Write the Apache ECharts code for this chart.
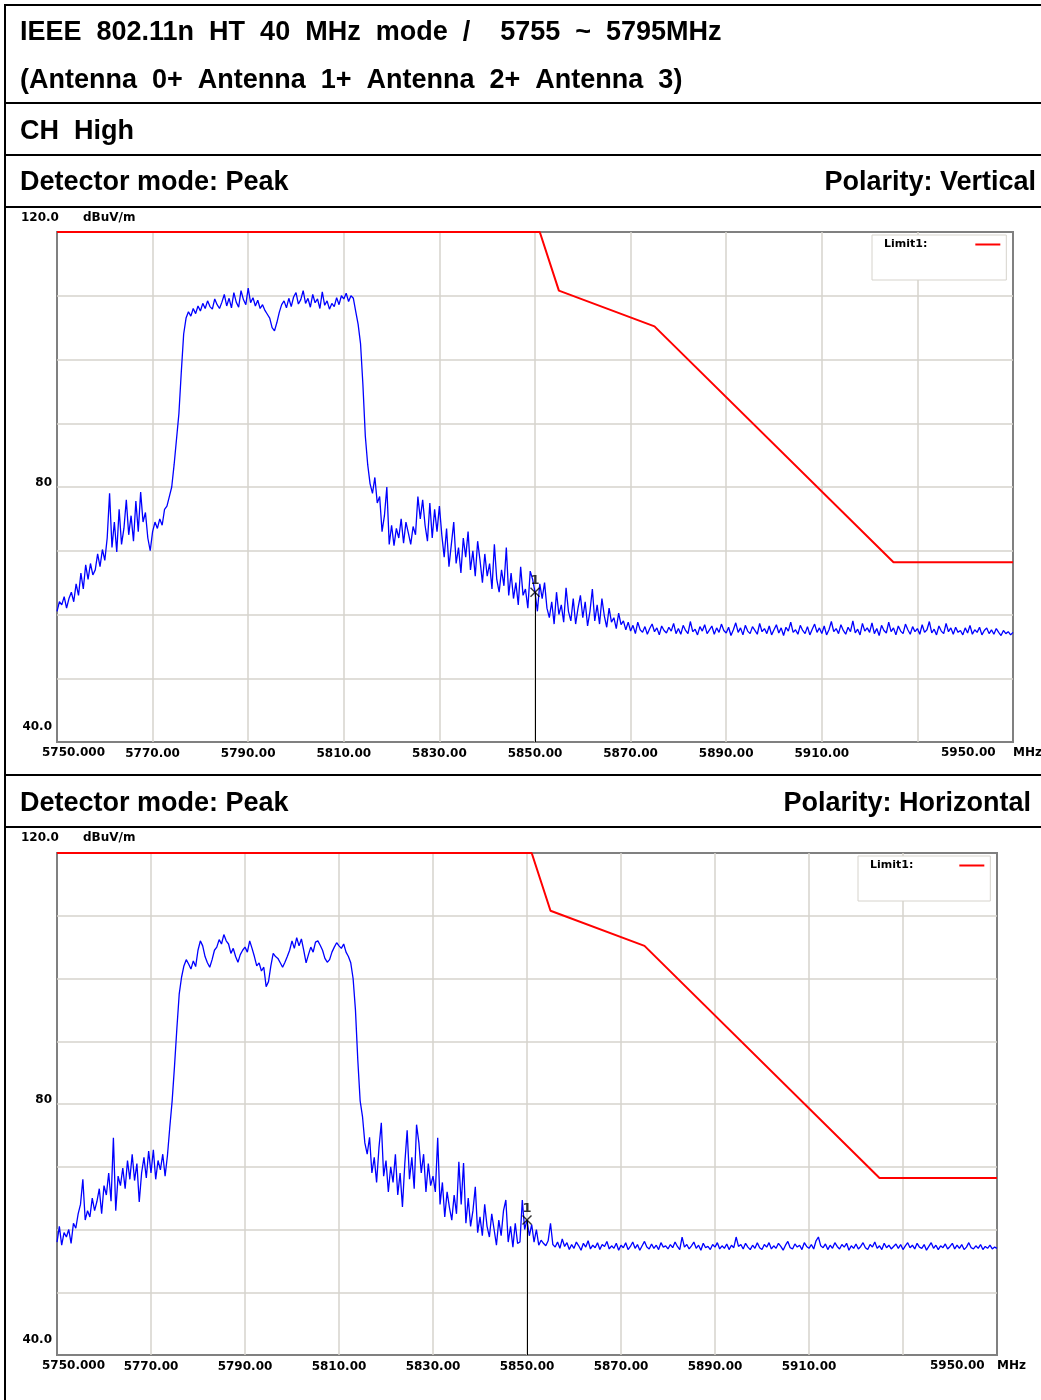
<!DOCTYPE html>
<html>
<head>
<meta charset="utf-8">
<title>802.11n HT40 CH High - band edge</title>
<script src="https://cdn.jsdelivr.net/npm/echarts@6.0.0/dist/echarts.min.js"></script>
<style>
  html, body { margin: 0; padding: 0; background: #fff; }
  #main { width: 1041px; height: 1400px; }
</style>
</head>
<body>
<div id="main"></div>
<script>
// sweep: 5750 .. 5950 MHz, one reading every 0.5 MHz
var freqStart = 5750;
var freqStep = 0.5;

// x tick labels shown under the grid
var xTickLabels = [5770, 5790, 5810, 5830, 5850, 5870, 5890, 5910];

// limit line (dBuV/m)
var limitFreq = [5750, 5851, 5855, 5875, 5925, 5950];
var limitVal  = [120, 120, 110.8, 105.2, 68.2, 68.2];

// marker 1
var markerFreq = 5850;
var markerVertical = 63.5;
var markerHorizontal = 61.5;

// trace, polarity vertical (dBuV/m)
var traceVertical = [
  60.5, 62.0, 61.5, 62.8, 61.0, 62.5, 63.5, 62.0, 64.8, 63.0, 66.5, 64.0, 67.8, 65.5, 68.0, 66.2, 67.0, 69.5, 67.5, 70.2,
  68.5, 72.0, 79.0, 70.5, 74.5, 69.8, 76.5, 71.0, 73.5, 78.0, 72.5, 75.5, 71.5, 77.8, 73.0, 79.2, 74.5, 76.0, 72.0, 70.0,
  73.0, 74.5, 73.5, 75.0, 74.0, 76.5, 77.0, 78.5, 80.0, 83.5, 87.5, 91.5, 98.0, 104.0, 106.5, 107.5, 106.8, 108.0, 107.2, 108.4,
  107.6, 108.8, 108.0, 109.2, 108.3, 107.9, 109.5, 108.6, 108.0, 109.0, 110.2, 108.4, 109.6, 108.1, 110.5, 109.0, 108.2, 110.8, 109.4, 108.6,
  111.2, 108.9, 109.7, 108.4, 109.3, 108.0, 108.6, 107.7, 107.1, 106.5, 105.0, 104.5, 105.8, 107.4, 108.6, 109.2, 108.1, 109.6, 108.3, 109.8,
  110.5, 108.7, 109.4, 110.8, 108.8, 109.6, 108.2, 110.2, 108.9, 109.5, 108.0, 110.6, 108.5, 109.2, 107.9, 108.8, 108.3, 109.7, 108.6, 110.0,
  109.5, 110.4, 109.1, 110.0, 109.6, 107.5, 105.5, 102.5, 96.0, 88.0, 83.5, 80.5, 79.0, 81.5, 77.5, 78.5, 73.0, 75.5, 80.0, 71.0,
  74.0, 70.8, 73.5, 72.0, 75.0, 71.2, 74.5, 72.8, 71.0, 73.8, 72.5, 78.5, 75.0, 78.0, 74.0, 71.5, 77.5, 72.0, 76.5, 73.0,
  77.0, 72.5, 69.0, 73.5, 67.5, 71.0, 74.5, 68.0, 70.5, 66.5, 72.0, 69.0, 73.0, 67.0, 70.0, 66.0, 71.5, 68.5, 65.0, 69.5,
  66.0, 68.0, 64.0, 71.0, 65.5, 63.5, 67.0, 64.5, 70.5, 63.0, 66.5, 62.5, 65.0, 61.5, 67.5, 63.0, 64.0, 61.0, 66.8, 65.5,
  63.5, 60.5, 64.8, 62.5, 65.0, 61.0, 59.5, 62.0, 58.5, 63.5, 60.0, 61.5, 58.8, 64.2, 60.5, 59.0, 62.5, 58.5, 61.0, 63.0,
  59.5, 62.0, 58.2, 60.5, 64.0, 59.0, 61.5, 58.5, 62.5, 59.8, 58.0, 61.0, 58.8, 59.5, 57.8, 60.2, 58.4, 59.0, 57.6, 58.8,
  57.4, 58.3, 57.0, 58.8, 57.6, 57.2, 58.1, 56.9, 57.8, 58.5, 57.3, 57.9, 56.8, 58.2, 57.5, 57.1, 58.0, 57.4, 58.6, 57.0,
  57.8, 56.9, 58.3, 57.5, 57.0, 58.9, 57.3, 57.7, 56.8, 58.1, 57.4, 58.4, 57.0, 57.6, 58.2, 56.9, 57.9, 57.2, 58.5, 57.5,
  57.1, 58.0, 56.7, 57.6, 58.7, 57.2, 57.9, 56.8, 58.3, 57.4, 57.0, 58.1, 57.5, 56.9, 58.6, 57.3, 57.8, 57.0, 58.2, 56.8,
  57.6, 58.4, 57.1, 57.9, 56.7, 58.0, 57.4, 58.8, 57.2, 57.6, 56.9, 58.3, 57.5, 57.0, 58.1, 56.8, 57.7, 58.5, 57.2, 57.9,
  57.0, 58.2, 56.8, 57.6, 58.9, 57.3, 57.8, 57.0, 58.4, 57.5, 56.9, 58.0, 57.3, 59.0, 57.1, 57.7, 56.8, 58.6, 57.4, 57.9,
  57.2, 58.7, 57.0, 57.8, 56.7, 58.3, 57.5, 57.1, 58.8, 57.3, 57.9, 56.8, 58.2, 57.4, 57.0, 58.5, 57.6, 56.9, 58.1, 57.3,
  57.8, 56.9, 58.4, 57.2, 57.6, 58.9, 57.1, 57.7, 56.8, 58.2, 57.4, 57.0, 58.6, 57.3, 57.9, 56.9, 58.0, 57.2, 57.5, 56.8,
  57.9, 57.1, 58.3, 56.9, 57.6, 57.2, 58.0, 56.8, 57.5, 57.9, 57.0, 57.6, 56.9, 57.8, 57.2, 56.7, 57.5, 57.0, 57.3, 56.8, 57.2
];

// trace, polarity horizontal (dBuV/m)
var traceHorizontal = [
  58.0, 60.5, 57.5, 59.5, 58.8, 60.0, 57.8, 61.0, 60.2, 62.5, 64.0, 68.0, 61.5, 63.0, 62.0, 65.0, 63.0, 64.5, 66.5, 62.5,
  67.0, 65.5, 69.0, 64.5, 74.6, 63.0, 68.5, 67.0, 69.8, 66.5, 71.0, 68.0, 72.0, 67.8, 70.5, 64.4, 69.0, 71.5, 68.2, 72.5,
  69.0, 72.7, 68.0, 71.0, 69.5, 72.0, 68.5, 71.8, 76.3, 80.5, 86.0, 92.0, 97.5, 100.2, 102.0, 103.0, 102.3, 101.5, 102.8, 101.9,
  104.5, 106.0, 105.2, 103.5, 102.5, 101.8, 103.0, 104.5, 105.0, 106.2, 105.5, 107.0, 106.0, 105.5, 104.0, 104.8, 103.5, 102.6, 103.8, 104.5,
  105.0, 104.2, 106.0, 104.8, 103.5, 102.0, 102.5, 101.2, 101.8, 98.7, 99.5, 102.0, 104.0, 103.5, 103.2, 102.5, 101.8, 102.6, 103.5, 104.5,
  106.0, 104.8, 106.5, 105.2, 106.3, 104.5, 102.5, 103.8, 105.0, 104.2, 105.8, 106.0, 105.3, 104.5, 103.2, 102.6, 103.0, 104.2, 105.0, 105.7,
  105.2, 104.8, 105.5, 104.2, 103.5, 102.5, 100.0, 95.0, 87.0, 80.5, 78.0, 73.8, 72.0, 74.7, 69.0, 71.5, 67.5, 73.0, 77.0, 68.5,
  71.0, 66.0, 70.0, 67.5, 72.0, 65.5, 69.0, 63.6, 70.5, 75.8, 68.0, 71.5, 66.5, 76.7, 73.8, 69.0, 72.0, 66.0, 70.5, 67.0,
  68.5, 66.0, 74.6, 64.0, 67.5, 62.0, 66.0, 63.5, 61.5, 65.5, 62.5, 70.8, 64.0, 70.6, 61.0, 65.0, 60.5, 63.0, 66.8, 59.5,
  62.0, 59.0, 64.0, 60.5, 58.8, 62.5, 60.0, 57.5, 61.5, 59.0, 63.0, 64.7, 58.0, 60.5, 57.2, 61.0, 57.8, 58.0, 64.7, 60.0,
  61.5, 59.0, 60.8, 58.0, 60.0, 57.5, 58.3, 57.8, 57.4, 58.2, 61.0, 57.6, 57.2, 58.0, 57.0, 58.5, 57.3, 57.9, 56.8, 57.6,
  57.0, 58.0, 57.4, 56.7, 57.8, 57.2, 58.2, 56.9, 57.5, 57.1, 57.9, 56.8, 57.6, 57.3, 58.1, 56.9, 57.4, 57.0, 57.8, 56.7,
  57.5, 57.1, 57.9, 56.8, 57.3, 58.0, 57.0, 57.6, 56.7, 57.4, 58.1, 57.2, 56.9, 57.7, 57.0, 57.5, 56.8, 57.9, 57.2, 57.4,
  56.9, 57.6, 57.1, 58.0, 57.3, 56.8, 58.8, 57.2, 57.6, 56.9, 57.4, 58.0, 57.0, 57.5, 56.7, 57.8, 57.1, 57.3, 56.8, 57.6,
  57.2, 57.9, 56.9, 57.4, 57.0, 57.7, 56.8, 57.5, 57.1, 58.8, 57.3, 57.6, 56.9, 57.8, 57.2, 56.8, 57.5, 57.0, 57.9, 57.1,
  56.8, 57.6, 57.2, 57.9, 56.9, 57.4, 57.0, 57.8, 57.3, 56.7, 57.5, 58.1, 57.1, 56.9, 57.7, 57.2, 57.5, 56.8, 57.9, 57.3,
  57.0, 57.6, 56.9, 58.2, 58.8, 57.4, 57.1, 57.7, 56.8, 57.5, 57.0, 57.9, 57.3, 56.9, 57.6, 57.2, 57.8, 56.7, 57.4, 57.0,
  57.7, 56.9, 57.3, 57.9, 57.1, 56.8, 57.6, 57.2, 58.0, 57.0, 57.4, 56.8, 57.8, 57.1, 57.5, 56.9, 57.3, 57.7, 57.0, 57.6,
  56.8, 57.4, 57.9, 57.1, 57.5, 56.9, 57.8, 57.2, 57.0, 57.6, 56.7, 57.3, 57.9, 57.0, 57.5, 56.8, 57.4, 57.1, 57.7, 56.9,
  57.3, 57.8, 56.9, 57.5, 57.0, 57.6, 56.8, 57.2, 57.9, 57.1, 56.9, 57.4, 57.0, 57.6, 56.8, 57.3, 57.0, 57.5, 56.9, 57.2, 57.0
];

function toPairs(values) {
  return values.map(function (v, i) { return [freqStart + i * freqStep, v]; });
}
function limitPairs() {
  return limitFreq.map(function (f, i) { return [f, limitVal[i]]; });
}

var headFont = 'bold 27px "Liberation Sans", Arial, sans-serif';
var axisFont = '"DejaVu Sans", sans-serif';
var gridColor = '#d6d3cc';
var frameColor = '#808080';

// rule lines of the report table
function hRule(y) {
  return { type: 'rect', shape: { x: 4, y: y, width: 1037, height: 2 }, style: { fill: '#000' }, silent: true };
}
function headText(text, x, y, align) {
  return { type: 'text', style: { text: text, x: x, y: y + 2, font: headFont, fill: '#000', align: align || 'left', verticalAlign: 'middle' }, silent: true };
}
function smallText(text, x, y, align) {
  return { type: 'text', style: { text: text, x: x, y: y, font: 'bold 12px ' + axisFont, fill: '#000', align: align || 'left', verticalAlign: 'middle' }, silent: true };
}

var grids = [
  { left: 57, top: 232, width: 956, height: 510 },
  { left: 57, top: 853, width: 940, height: 502 }
];

function xAxisFor(i) {
  return {
    type: 'value', gridIndex: i, min: 5750, max: 5950, interval: 20,
    axisLine: { show: false }, axisTick: { show: false },
    splitLine: { show: true, showMinLine: false, showMaxLine: false, lineStyle: { color: gridColor, width: 1.5 } },
    axisLabel: {
      margin: 6, color: '#000', fontFamily: axisFont, fontWeight: 'bold', fontSize: 12,
      formatter: function (v) { return xTickLabels.indexOf(v) >= 0 ? v.toFixed(2) : ''; }
    }
  };
}
function yAxisFor(i) {
  return {
    type: 'value', gridIndex: i, min: 40, max: 120, interval: 10,
    axisLine: { show: false }, axisTick: { show: false },
    splitLine: { show: true, showMinLine: false, showMaxLine: false, lineStyle: { color: gridColor, width: 1.5 } },
    axisLabel: {
      margin: 5, color: '#000', fontFamily: axisFont, fontWeight: 'bold', fontSize: 12,
      formatter: function (v) {
        if (v === 40) return '{lo|40.0}';
        if (v === 80) return '{mid|80}';
        return '';
      },
      rich: {
        lo: { fontFamily: axisFont, fontWeight: 'bold', fontSize: 12, padding: [0, 0, 30, 0] },
        mid: { fontFamily: axisFont, fontWeight: 'bold', fontSize: 12, padding: [0, 0, 8, 0] }
      }
    }
  };
}

// legend box: text first, short red line after it
function legendFor(left, top, gap) {
  return {
    data: ['Limit1:'], left: left, top: top, orient: 'vertical', align: 'right',
    backgroundColor: '#fff', borderColor: gridColor, borderWidth: 1,
    padding: [4, 6, 30, 12], itemWidth: 25, itemHeight: 2, icon: 'rect',
    itemStyle: { color: '#ff0000', borderWidth: 0 },
    formatter: '{t|{name}}',
    textStyle: {
      color: '#000',
      rich: { t: { fontFamily: axisFont, fontWeight: 'bold', fontSize: 11, color: '#000', padding: [0, gap, 0, 0] } }
    },
    selectedMode: false
  };
}

function seriesFor(i, trace, markerVal) {
  return [
    {
      name: 'trace' + i, type: 'line', xAxisIndex: i, yAxisIndex: i,
      data: toPairs(trace), symbol: 'none', showSymbol: false, sampling: 'none',
      lineStyle: { color: '#0000ff', width: 1.3 }, z: 3
    },
    {
      name: 'Limit1:', type: 'line', xAxisIndex: i, yAxisIndex: i,
      data: limitPairs(), symbol: 'none', showSymbol: false,
      lineStyle: { color: '#ff0000', width: 2 }, itemStyle: { color: '#ff0000' }, z: 4
    },
    {
      name: 'marker' + i, type: 'scatter', xAxisIndex: i, yAxisIndex: i,
      data: [[markerFreq, markerVal]],
      symbol: 'path://M0,1L1,0L5,4L9,0L10,1L6,5L10,9L9,10L5,6L1,10L0,9L4,5Z', symbolSize: 10,
      itemStyle: { color: '#000' }, z: 5,
      label: { show: true, formatter: '1', position: 'top', distance: 0, color: '#000', fontFamily: axisFont, fontWeight: 'bold', fontSize: 13 },
      markLine: {
        silent: true, symbol: ['none', 'none'], label: { show: false },
        lineStyle: { color: '#000', width: 1, type: 'solid' },
        data: [[{ coord: [markerFreq, markerVal] }, { coord: [markerFreq, 40] }]]
      }
    }
  ];
}

var chart = echarts.init(document.getElementById('main'), null, { renderer: 'canvas' });

var option = {
  animation: false,
  backgroundColor: '#fff',
  grid: grids.map(function (g) {
    return { left: g.left, top: g.top, width: g.width, height: g.height, show: true, borderColor: frameColor, borderWidth: 2, backgroundColor: 'transparent' };
  }),
  xAxis: [xAxisFor(0), xAxisFor(1)],
  yAxis: [yAxisFor(0), yAxisFor(1)],
  legend: [legendFor(872, 235, 43), legendFor(858, 856, 41)],
  series: seriesFor(0, traceVertical, markerVertical).concat(seriesFor(1, traceHorizontal, markerHorizontal)),
  graphic: [
    { type: 'rect', shape: { x: 4, y: 4, width: 2, height: 1396 }, style: { fill: '#000' }, silent: true },
    hRule(4), hRule(102), hRule(154), hRule(206), hRule(774), hRule(826),
    headText('IEEE  802.11n  HT  40  MHz  mode  /    5755  ~  5795MHz', 20, 31),
    headText('(Antenna  0+  Antenna  1+  Antenna  2+  Antenna  3)', 20, 79),
    headText('CH  High', 20, 130),
    headText('Detector mode: Peak', 20, 181),
    headText('Polarity: Vertical', 1036, 181, 'right'),
    headText('Detector mode: Peak', 20, 802),
    headText('Polarity: Horizontal', 1031, 802, 'right'),
    smallText('120.0', 21, 218), smallText('dBuV/m', 83, 218),
    smallText('5750.000', 42, 753), smallText('5950.00', 941, 753), smallText('MHz', 1013, 753),
    smallText('120.0', 21, 838), smallText('dBuV/m', 83, 838),
    smallText('5750.000', 42, 1366), smallText('5950.00', 930, 1366), smallText('MHz', 997, 1366)
  ]
};

chart.setOption(option);
</script>
</body>
</html>
